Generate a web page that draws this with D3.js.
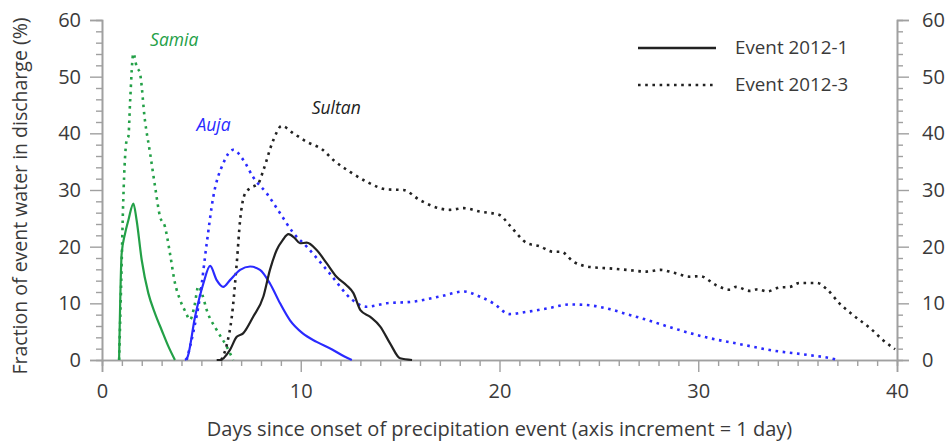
<!DOCTYPE html>
<html>
<head>
<meta charset="utf-8">
<script src="https://cdn.jsdelivr.net/npm/d3@7"></script>
<style>
  html, body { margin: 0; padding: 0; background: #fff; }
  svg { display: block; }
  text { font-family: "Open Sans", "Noto Sans", sans-serif; }
</style>
</head>
<body>
<svg id="chart" width="946" height="443"></svg>
<script>
// Fraction of event water in discharge, per catchment and event
const samiaEvent1Days = [0.86, 0.99, 1.16, 1.33, 1.58, 1.74, 2.0, 2.33, 2.67, 3.0, 3.34, 3.67];
const samiaEvent1Pct  = [0, 18.8, 22.3, 24.7, 27.6, 24.7, 17.6, 11.8, 8.2, 5.3, 2.4, 0];

const samiaEvent3Days = [0.86, 0.96, 1.07, 1.24, 1.33, 1.41, 1.58, 1.74, 1.91, 2.16, 2.42, 2.67, 2.92, 3.17, 3.42, 3.67, 3.93, 4.2, 4.43, 4.65, 4.85, 5.05, 5.27, 5.77, 6.27, 6.6];
const samiaEvent3Pct  = [0, 12.9, 28.2, 38.8, 39.5, 45.3, 54.1, 51.8, 50.6, 42.3, 36.5, 30.6, 25.3, 23.5, 18.8, 13.6, 10.6, 8.5, 7.1, 9.5, 13, 11.5, 8.8, 5.3, 2.4, 0];

const aujaEvent1Days = [4.18, 4.3, 4.68, 5.1, 5.44, 5.77, 6.1, 6.44, 6.95, 7.45, 7.95, 8.45, 8.96, 9.46, 10.1, 10.8, 11.6, 12.2, 12.57];
const aujaEvent1Pct  = [0, 0.5, 7.6, 13.5, 16.6, 14.1, 12.9, 14.1, 15.9, 16.5, 15.9, 13.5, 10, 7, 4.7, 3.2, 1.8, 0.6, 0];

const aujaEvent3Days = [4.26, 4.6, 4.93, 5.27, 5.6, 6.1, 6.6, 7.11, 7.6, 8.29, 8.96, 9.63, 10.3, 11.45, 12.6, 13.3, 14.3, 15.66, 17.0, 18.2, 19.0, 19.7, 20.5, 21.37, 22.4, 23.55, 24.4, 25.4, 26.4, 27.4, 28.75, 30.4, 32.1, 33.8, 35.5, 36.9, 37.0];
const aujaEvent3Pct  = [0, 5, 11.2, 20.6, 28.8, 34.7, 37.1, 35.3, 32.3, 29.4, 25.9, 22.4, 20, 15.3, 10.6, 9.4, 10, 10.3, 11.2, 12.1, 11.2, 10, 8.1, 8.5, 9.1, 9.8, 9.7, 9.1, 8.1, 7.1, 5.6, 4, 2.8, 1.65, 0.9, 0.1, 0];

const sultanEvent1Days = [5.77, 5.94, 6.44, 6.78, 7.1, 7.6, 8.12, 8.45, 8.79, 9.1, 9.38, 9.7, 9.96, 10.3, 10.8, 11.3, 11.8, 12.3, 12.65, 13.0, 13.5, 14.0, 14.5, 15.0, 15.6];
const sultanEvent1Pct  = [0, 0, 1.8, 4.1, 4.7, 7.6, 11.2, 15.9, 19.4, 21.2, 22.2, 21.5, 20.6, 20.7, 19.4, 17.1, 14.7, 13.2, 11.8, 8.8, 7.6, 5.9, 2.9, 0.3, 0];

const sultanEvent3Days = [6.0, 6.3, 6.53, 6.78, 6.95, 7.2, 7.45, 7.87, 8.12, 8.62, 9.04, 9.63, 10.3, 11.1, 11.64, 12.48, 13.3, 14.33, 15.16, 16.0, 16.67, 17.5, 18.2, 19.0, 20.0, 20.5, 21.4, 22.0, 22.7, 23.1, 23.7, 24.56, 25.4, 26.4, 27.4, 28.1, 28.75, 29.6, 30.1, 30.9, 31.6, 31.9, 32.6, 33.0, 33.45, 34.1, 34.6, 35.1, 35.97, 36.5, 37.1, 37.8, 38.65, 39.3, 39.9];
const sultanEvent3Pct  = [0, 3, 7.6, 17.1, 24.7, 29.4, 30.3, 31.2, 33.5, 38.8, 41.3, 40, 38.5, 37.1, 35.3, 33.2, 31.5, 30.1, 30, 28.2, 27.1, 26.5, 26.8, 26.2, 25.6, 23.8, 20.6, 20.1, 19.1, 19.1, 17.4, 16.4, 16.2, 15.9, 15.6, 15.9, 15.4, 14.7, 14.8, 13.2, 12.4, 12.9, 12.2, 12.5, 12.1, 12.8, 12.9, 13.6, 13.6, 12.4, 10, 7.9, 5.6, 3.5, 1.9];

const xMajorTicks = [0, 10, 20, 30, 40];
const yMajorTicks = [0, 10, 20, 30, 40, 50, 60];
const legendLabels = ["Event 2012-1", "Event 2012-3"];
const catchmentNames = ["Samia", "Auja", "Sultan"];

const xTitle = "Days since onset of precipitation event (axis increment = 1 day)";
const yTitle = "Fraction of event water in discharge (%)";

const colors = { Samia: "#23a047", Auja: "#2a2aff", Sultan: "#222222" };
const axisColor = "#a0a0a0";
const textColor = "#3a3a3a";

const svg = d3.select("#chart");

const x = d3.scaleLinear().domain([0, 40]).range([102, 897]);
const y = d3.scaleLinear().domain([0, 60]).range([360, 20]);

const xMinor = d3.range(0, 41, 1).filter(d => !xMajorTicks.includes(d));
const yMinor = d3.range(0, 61, 2).filter(d => !yMajorTicks.includes(d));

function styleAxis(g) {
  g.select(".domain").attr("stroke", axisColor).attr("stroke-width", 1.6);
  g.selectAll(".tick line").attr("stroke", axisColor).attr("stroke-width", 1.4);
  g.selectAll(".tick text").attr("fill", textColor)
    .style("font-family", '"Open Sans", sans-serif').style("font-size", "20px");
}

// x axis: major ticks labelled, one minor tick per day
svg.append("g").attr("transform", `translate(0,${y(0)})`)
  .call(d3.axisBottom(x).tickValues(xMinor).tickSize(6).tickFormat(""))
  .call(styleAxis);
svg.append("g").attr("transform", `translate(0,${y(0)})`)
  .call(d3.axisBottom(x).tickValues(xMajorTicks).tickSize(12).tickPadding(12).tickFormat(d3.format("d")))
  .call(styleAxis);

// left y axis
svg.append("g").attr("transform", `translate(${x(0)},0)`)
  .call(d3.axisLeft(y).tickValues(yMinor).tickSize(6).tickFormat(""))
  .call(styleAxis);
svg.append("g").attr("transform", `translate(${x(0)},0)`)
  .call(d3.axisLeft(y).tickValues(yMajorTicks).tickSize(12).tickPadding(9).tickFormat(d3.format("d")))
  .call(styleAxis);

// right y axis
svg.append("g").attr("transform", `translate(${x(40)},0)`)
  .call(d3.axisRight(y).tickValues(yMinor).tickSize(6).tickFormat(""))
  .call(styleAxis);
svg.append("g").attr("transform", `translate(${x(40)},0)`)
  .call(d3.axisRight(y).tickValues(yMajorTicks).tickSize(12).tickPadding(13).tickFormat(d3.format("d")))
  .call(styleAxis);

// axis titles
svg.append("text")
  .attr("x", (x(0) + x(40)) / 2).attr("y", 431)
  .attr("text-anchor", "middle").attr("dominant-baseline", "middle")
  .attr("fill", textColor).style("font-size", "20px")
  .text(xTitle);

svg.append("text")
  .attr("transform", `translate(22,${(y(0) + y(60)) / 2 + 6}) rotate(-90)`)
  .attr("text-anchor", "middle").attr("dominant-baseline", "middle")
  .attr("fill", textColor).style("font-size", "19.5px")
  .text(yTitle);

// curves
const line = d3.line()
  .x(d => x(d[0]))
  .y(d => y(d[1]))
  .curve(d3.curveMonotoneX);

const zip = (a, b) => a.map((d, i) => [d, b[i]]);

const dotted = "2.6 4.6";
const series = [
  { name: "Samia",  days: samiaEvent3Days,  pct: samiaEvent3Pct,  dash: dotted },
  { name: "Auja",   days: aujaEvent3Days,   pct: aujaEvent3Pct,   dash: dotted },
  { name: "Sultan", days: sultanEvent3Days, pct: sultanEvent3Pct, dash: dotted },
  { name: "Samia",  days: samiaEvent1Days,  pct: samiaEvent1Pct,  dash: null },
  { name: "Auja",   days: aujaEvent1Days,   pct: aujaEvent1Pct,   dash: null },
  { name: "Sultan", days: sultanEvent1Days, pct: sultanEvent1Pct, dash: null }
];

svg.append("g").selectAll("path")
  .data(series)
  .join("path")
  .attr("d", s => line(zip(s.days, s.pct)))
  .attr("fill", "none")
  .attr("stroke", s => colors[s.name])
  .attr("stroke-width", s => s.dash ? 2.6 : 2.2)
  .attr("stroke-dasharray", s => s.dash)
  .attr("stroke-linejoin", "round");

// catchment labels
const labelPos = {
  Samia:  [2.42, 56.3],
  Auja:   [4.75, 41.2],
  Sultan: [10.55, 44.3]
};
svg.append("g").selectAll("text")
  .data(catchmentNames)
  .join("text")
  .attr("x", d => x(labelPos[d][0]))
  .attr("y", d => y(labelPos[d][1]))
  .attr("dominant-baseline", "middle")
  .attr("fill", d => colors[d])
  .style("font-style", "italic")
  .style("font-size", "17.5px")
  .text(d => d);

// legend
const legend = svg.append("g");
legendLabels.forEach((lab, i) => {
  const ly = 48 + i * 37;
  legend.append("line")
    .attr("x1", 638).attr("x2", 716).attr("y1", ly).attr("y2", ly)
    .attr("stroke", "#222").attr("stroke-width", i === 0 ? 2.6 : 2.4)
    .attr("stroke-dasharray", i === 0 ? null : dotted);
  legend.append("text")
    .attr("x", 735).attr("y", ly + 1)
    .attr("dominant-baseline", "middle")
    .attr("fill", textColor).style("font-size", "18.8px")
    .text(lab);
});
</script>
</body>
</html>
